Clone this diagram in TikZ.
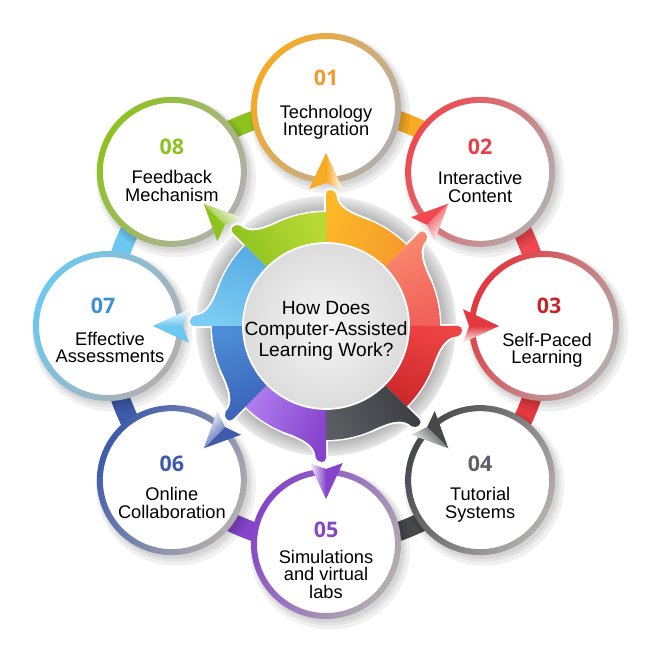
\documentclass[tikz,border=0pt]{standalone}
\usepackage{fontspec}
\setmainfont{Liberation Sans}
\newfontfamily\numfont{Open Sans}
% ring / band / arrow colours
\definecolor{techorange}{HTML}{F7AA24}
\definecolor{interred}{HTML}{EF4850}
\definecolor{selfred}{HTML}{E2393F}
\definecolor{tutgray}{HTML}{47484C}
\definecolor{simpurple}{HTML}{8544CA}
\definecolor{onlineblue}{HTML}{3E5BAB}
\definecolor{effblue}{HTML}{6CC8F0}
\definecolor{feedgreen}{HTML}{8DC21F}
\definecolor{ringgray}{HTML}{B3AFAF}
% number colours
\definecolor{technum}{HTML}{F39A2B}
\definecolor{internum}{HTML}{EB3F47}
\definecolor{selfnum}{HTML}{C7252B}
\definecolor{tutnum}{HTML}{606166}
\definecolor{simnum}{HTML}{8745C8}
\definecolor{onlinenum}{HTML}{3E5BAB}
\definecolor{effnum}{HTML}{3C8FD8}
\definecolor{feednum}{HTML}{8DC21F}
% centre wedge colours
\definecolor{techsegA}{HTML}{FDB827}
\definecolor{techsegB}{HTML}{F59C2C}
\definecolor{intersegA}{HTML}{F98B6F}
\definecolor{intersegB}{HTML}{F1625A}
\definecolor{selfsegA}{HTML}{EE4343}
\definecolor{selfsegB}{HTML}{CC282C}
\definecolor{tutsegA}{HTML}{3B3C41}
\definecolor{tutsegB}{HTML}{5B5C61}
\definecolor{simsegA}{HTML}{8542CB}
\definecolor{simsegB}{HTML}{B07CF0}
\definecolor{onlinesegA}{HTML}{3B60B5}
\definecolor{onlinesegB}{HTML}{4C8BD6}
\definecolor{effsegA}{HTML}{7BCDF3}
\definecolor{effsegB}{HTML}{59ACE3}
\definecolor{feedsegA}{HTML}{8DC21F}
\definecolor{feedsegB}{HTML}{B9D935}
\definecolor{rimdark}{HTML}{A9A9A9}
\definecolor{rimmid}{HTML}{C4C4C4}
\definecolor{rimlight}{HTML}{EBEBEB}
\definecolor{hubin}{HTML}{F6F6F6}
\definecolor{hubout}{HTML}{DCDCDC}
\pgfdeclareradialshading{rimshade}{\pgfpoint{0bp}{0bp}}{color(0bp)=(rimdark); color(21.5bp)=(rimdark); color(23bp)=(rimmid); color(25bp)=(rimlight); color(50bp)=(rimlight)}

\tikzset{
  bubble/.style={circle, fill=white, minimum size=2.8cm, inner sep=0pt},
  ringshade/.style={even odd rule, shading angle=60},
  band/.style={line width=0.38cm},
  softshadow/.style={fill=black, opacity=0.06},
  halo/.style={draw=white, line width=2.2pt},
  numlabel/.style={font=\numfont\bfseries\fontsize{12.2pt}{12pt}\selectfont, inner sep=0pt, anchor=base},
  itemlabel/.style={font=\fontsize{10.4pt}{9.9pt}\selectfont, align=center, inner sep=0pt, anchor=north},
  centrelabel/.style={font=\fontsize{10.9pt}{11.9pt}\selectfont, align=center, inner sep=0pt, anchor=north},
}

\begin{document}
\begin{tikzpicture}
  \useasboundingbox (-6.52,-6.48) rectangle (6.48,6.52);
  \coordinate (o) at (0,0);
  \coordinate (p1) at (90:4.36);
  \coordinate (p2) at (45:4.36);
  \coordinate (p3) at (0:4.36);
  \coordinate (p4) at (-45:4.36);
  \coordinate (p5) at (-90:4.36);
  \coordinate (p6) at (-135:4.36);
  \coordinate (p7) at (180:4.36);
  \coordinate (p8) at (135:4.36);
  % bands between the circles
  \draw [band, techorange] (p1) arc[start angle=90, end angle=45, radius=4.36];
  \draw [band, interred] (p2) arc[start angle=45, end angle=0, radius=4.36];
  \draw [band, selfred] (p3) arc[start angle=0, end angle=-45, radius=4.36];
  \draw [band, tutgray] (p4) arc[start angle=-45, end angle=-90, radius=4.36];
  \draw [band, simpurple] (p5) arc[start angle=-90, end angle=-135, radius=4.36];
  \draw [band, onlineblue] (p6) arc[start angle=-135, end angle=-180, radius=4.36];
  \draw [band, effblue] (p7) arc[start angle=180, end angle=135, radius=4.36];
  \draw [band, feedgreen] (p8) arc[start angle=135, end angle=90, radius=4.36];
  % shadows
  \fill [softshadow] ([shift={(0.08,-0.11)}]p1) circle (1.6) ([shift={(0.08,-0.11)}]p2) circle (1.6) ([shift={(0.08,-0.11)}]p3) circle (1.6) ([shift={(0.08,-0.11)}]p4) circle (1.6) ([shift={(0.08,-0.11)}]p5) circle (1.6) ([shift={(0.08,-0.11)}]p6) circle (1.6) ([shift={(0.08,-0.11)}]p7) circle (1.6) ([shift={(0.08,-0.11)}]p8) circle (1.6);
  \fill [softshadow] ([shift={(0.06,-0.08)}]p1) circle (1.55) ([shift={(0.06,-0.08)}]p2) circle (1.55) ([shift={(0.06,-0.08)}]p3) circle (1.55) ([shift={(0.06,-0.08)}]p4) circle (1.55) ([shift={(0.06,-0.08)}]p5) circle (1.55) ([shift={(0.06,-0.08)}]p6) circle (1.55) ([shift={(0.06,-0.08)}]p7) circle (1.55) ([shift={(0.06,-0.08)}]p8) circle (1.55);
  \fill [softshadow] ([shift={(0.05,-0.06)}]p1) circle (1.51) ([shift={(0.05,-0.06)}]p2) circle (1.51) ([shift={(0.05,-0.06)}]p3) circle (1.51) ([shift={(0.05,-0.06)}]p4) circle (1.51) ([shift={(0.05,-0.06)}]p5) circle (1.51) ([shift={(0.05,-0.06)}]p6) circle (1.51) ([shift={(0.05,-0.06)}]p7) circle (1.51) ([shift={(0.05,-0.06)}]p8) circle (1.51);
  % outer circles
  \node [bubble] (c1) at (p1) {};
  \node [bubble] (c2) at (p2) {};
  \node [bubble] (c3) at (p3) {};
  \node [bubble] (c4) at (p4) {};
  \node [bubble] (c5) at (p5) {};
  \node [bubble] (c6) at (p6) {};
  \node [bubble] (c7) at (p7) {};
  \node [bubble] (c8) at (p8) {};
  \shade [top color=techorange, bottom color=ringgray, ringshade] (c1) circle (1.5) (c1) circle (1.38);
  \shade [top color=interred, bottom color=ringgray, ringshade] (c2) circle (1.5) (c2) circle (1.38);
  \shade [top color=selfred, bottom color=ringgray, ringshade] (c3) circle (1.5) (c3) circle (1.38);
  \shade [top color=tutgray, bottom color=ringgray, ringshade] (c4) circle (1.5) (c4) circle (1.38);
  \shade [top color=simpurple, bottom color=ringgray, ringshade] (c5) circle (1.5) (c5) circle (1.38);
  \shade [top color=onlineblue, bottom color=ringgray, ringshade] (c6) circle (1.5) (c6) circle (1.38);
  \shade [top color=effblue, bottom color=ringgray, ringshade] (c7) circle (1.5) (c7) circle (1.38);
  \shade [top color=feedgreen, bottom color=ringgray, ringshade] (c8) circle (1.5) (c8) circle (1.38);
  % centre disc
  \shade [shading=rimshade] (o) circle (2.6);
  \fill [white] (o) circle (2.31);
  \draw [halo] (90:2.3) -- (90:2.64) .. controls (90:2.75) and (86.5:2.75) .. (85.5:2.64) .. controls (85:2.4) and (79:2.3) .. (68:2.28);
  \draw [halo] (45:2.3) -- (45:2.64) .. controls (45:2.75) and (41.5:2.75) .. (40.5:2.64) .. controls (40:2.4) and (34:2.3) .. (23:2.28);
  \draw [halo] (0:2.3) -- (0:2.64) .. controls (0:2.75) and (-3.5:2.75) .. (-4.5:2.64) .. controls (-5:2.4) and (-11:2.3) .. (-22:2.28);
  \draw [halo] (-45:2.3) -- (-45:2.64) .. controls (-45:2.75) and (-48.5:2.75) .. (-49.5:2.64) .. controls (-50:2.4) and (-56:2.3) .. (-67:2.28);
  \draw [halo] (-90:2.3) -- (-90:2.64) .. controls (-90:2.75) and (-93.5:2.75) .. (-94.5:2.64) .. controls (-95:2.4) and (-101:2.3) .. (-112:2.28);
  \draw [halo] (-135:2.3) -- (-135:2.64) .. controls (-135:2.75) and (-138.5:2.75) .. (-139.5:2.64) .. controls (-140:2.4) and (-146:2.3) .. (-157:2.28);
  \draw [halo] (180:2.3) -- (180:2.64) .. controls (180:2.75) and (176.5:2.75) .. (175.5:2.64) .. controls (175:2.4) and (169:2.3) .. (158:2.28);
  \draw [halo] (135:2.3) -- (135:2.64) .. controls (135:2.75) and (131.5:2.75) .. (130.5:2.64) .. controls (130:2.4) and (124:2.3) .. (113:2.28);
  \shade [top color=techsegA, bottom color=techsegB, shading angle=67.5] (90:1.6) -- (90:2.64) .. controls (90:2.75) and (86.5:2.75) .. (85.5:2.64) .. controls (85:2.4) and (79:2.3) .. (68:2.28) arc[start angle=68, end angle=45, radius=2.28] -- (45:1.6) arc[start angle=45, end angle=90, radius=1.6] -- cycle;
  \shade [top color=intersegA, bottom color=intersegB, shading angle=22.5] (45:1.6) -- (45:2.64) .. controls (45:2.75) and (41.5:2.75) .. (40.5:2.64) .. controls (40:2.4) and (34:2.3) .. (23:2.28) arc[start angle=23, end angle=0, radius=2.28] -- (0:1.6) arc[start angle=0, end angle=45, radius=1.6] -- cycle;
  \shade [top color=selfsegA, bottom color=selfsegB, shading angle=-22.5] (0:1.6) -- (0:2.64) .. controls (0:2.75) and (-3.5:2.75) .. (-4.5:2.64) .. controls (-5:2.4) and (-11:2.3) .. (-22:2.28) arc[start angle=-22, end angle=-45, radius=2.28] -- (-45:1.6) arc[start angle=-45, end angle=0, radius=1.6] -- cycle;
  \shade [top color=tutsegA, bottom color=tutsegB, shading angle=-67.5] (-45:1.6) -- (-45:2.64) .. controls (-45:2.75) and (-48.5:2.75) .. (-49.5:2.64) .. controls (-50:2.4) and (-56:2.3) .. (-67:2.28) arc[start angle=-67, end angle=-90, radius=2.28] -- (-90:1.6) arc[start angle=-90, end angle=-45, radius=1.6] -- cycle;
  \shade [top color=simsegA, bottom color=simsegB, shading angle=-112.5] (-90:1.6) -- (-90:2.64) .. controls (-90:2.75) and (-93.5:2.75) .. (-94.5:2.64) .. controls (-95:2.4) and (-101:2.3) .. (-112:2.28) arc[start angle=-112, end angle=-135, radius=2.28] -- (-135:1.6) arc[start angle=-135, end angle=-90, radius=1.6] -- cycle;
  \shade [top color=onlinesegA, bottom color=onlinesegB, shading angle=-157.5] (-135:1.6) -- (-135:2.64) .. controls (-135:2.75) and (-138.5:2.75) .. (-139.5:2.64) .. controls (-140:2.4) and (-146:2.3) .. (-157:2.28) arc[start angle=-157, end angle=-180, radius=2.28] -- (-180:1.6) arc[start angle=-180, end angle=-135, radius=1.6] -- cycle;
  \shade [top color=effsegA, bottom color=effsegB, shading angle=157.5] (180:1.6) -- (180:2.64) .. controls (180:2.75) and (176.5:2.75) .. (175.5:2.64) .. controls (175:2.4) and (169:2.3) .. (158:2.28) arc[start angle=158, end angle=135, radius=2.28] -- (135:1.6) arc[start angle=135, end angle=180, radius=1.6] -- cycle;
  \shade [top color=feedsegA, bottom color=feedsegB, shading angle=112.5] (135:1.6) -- (135:2.64) .. controls (135:2.75) and (131.5:2.75) .. (130.5:2.64) .. controls (130:2.4) and (124:2.3) .. (113:2.28) arc[start angle=113, end angle=90, radius=2.28] -- (90:1.6) arc[start angle=90, end angle=135, radius=1.6] -- cycle;
  \shade [inner color=hubin, outer color=hubout] (o) circle (1.66);
  \draw [white, line width=1pt] (o) circle (1.66);
  \node [centrelabel] (q) at (0,0.5) {How Does\\Computer-Assisted\\Learning Work?};
  % arrow heads
  \fill [techorange] (90:3.46) -- (97:2.76) -- (90:2.86) -- cycle;
  \shade [top color=techorange, bottom color=white, shading angle=90] (90:3.46) -- (90:2.86) -- (83:2.76) -- cycle;
  \fill [interred] (45:3.46) -- (52:2.76) -- (45:2.86) -- cycle;
  \shade [top color=interred, bottom color=white, shading angle=45] (45:3.46) -- (45:2.86) -- (38:2.76) -- cycle;
  \fill [selfred] (0:3.46) -- (7:2.76) -- (0:2.86) -- cycle;
  \shade [top color=selfred, bottom color=white, shading angle=0] (0:3.46) -- (0:2.86) -- (-7:2.76) -- cycle;
  \fill [tutgray] (-45:3.46) -- (-38:2.76) -- (-45:2.86) -- cycle;
  \shade [top color=tutgray, bottom color=white, shading angle=-45] (-45:3.46) -- (-45:2.86) -- (-52:2.76) -- cycle;
  \fill [simpurple] (-90:3.46) -- (-83:2.76) -- (-90:2.86) -- cycle;
  \shade [top color=simpurple, bottom color=white, shading angle=-90] (-90:3.46) -- (-90:2.86) -- (-97:2.76) -- cycle;
  \fill [onlineblue] (-135:3.46) -- (-128:2.76) -- (-135:2.86) -- cycle;
  \shade [top color=onlineblue, bottom color=white, shading angle=-135] (-135:3.46) -- (-135:2.86) -- (-142:2.76) -- cycle;
  \fill [effblue] (180:3.46) -- (187:2.76) -- (180:2.86) -- cycle;
  \shade [top color=effblue, bottom color=white, shading angle=180] (180:3.46) -- (180:2.86) -- (173:2.76) -- cycle;
  \fill [feedgreen] (135:3.46) -- (142:2.76) -- (135:2.86) -- cycle;
  \shade [top color=feedgreen, bottom color=white, shading angle=135] (135:3.46) -- (135:2.86) -- (128:2.76) -- cycle;
  % labels
  \node [numlabel, text=technum] (n1) at ([yshift=0.45cm]c1) {01};
  \node [itemlabel] (t1) at ([yshift=0.06cm]c1) {Technology\\Integration};
  \node [numlabel, text=internum] (n2) at ([yshift=0.34cm]c2) {02};
  \node [itemlabel] (t2) at ([yshift=0.01cm]c2) {Interactive\\Content};
  \node [numlabel, text=selfnum] (n3) at ([xshift=0.1cm,yshift=0.25cm]c3) {03};
  \node [itemlabel] (t3) at ([xshift=0.06cm,yshift=-0.13cm]c3) {Self-Paced\\Learning};
  \node [numlabel, text=tutnum] (n4) at ([yshift=0.17cm]c4) {04};
  \node [itemlabel] (t4) at ([yshift=-0.14cm]c4) {Tutorial\\Systems};
  \node [numlabel, text=simnum] (n5) at ([yshift=0.13cm]c5) {05};
  \node [itemlabel] (t5) at ([yshift=-0.12cm]c5) {Simulations\\and virtual\\labs};
  \node [numlabel, text=onlinenum] (n6) at ([yshift=0.17cm]c6) {06};
  \node [itemlabel] (t6) at ([yshift=-0.14cm]c6) {Online\\Collaboration};
  \node [numlabel, text=effnum] (n7) at ([xshift=-0.1cm,yshift=0.25cm]c7) {07};
  \node [itemlabel] (t7) at ([xshift=0.04cm,yshift=-0.12cm]c7) {Effective\\Assessments};
  \node [numlabel, text=feednum] (n8) at ([yshift=0.34cm]c8) {08};
  \node [itemlabel] (t8) at ([yshift=0.03cm]c8) {Feedback\\Mechanism};
\end{tikzpicture}
\end{document}
